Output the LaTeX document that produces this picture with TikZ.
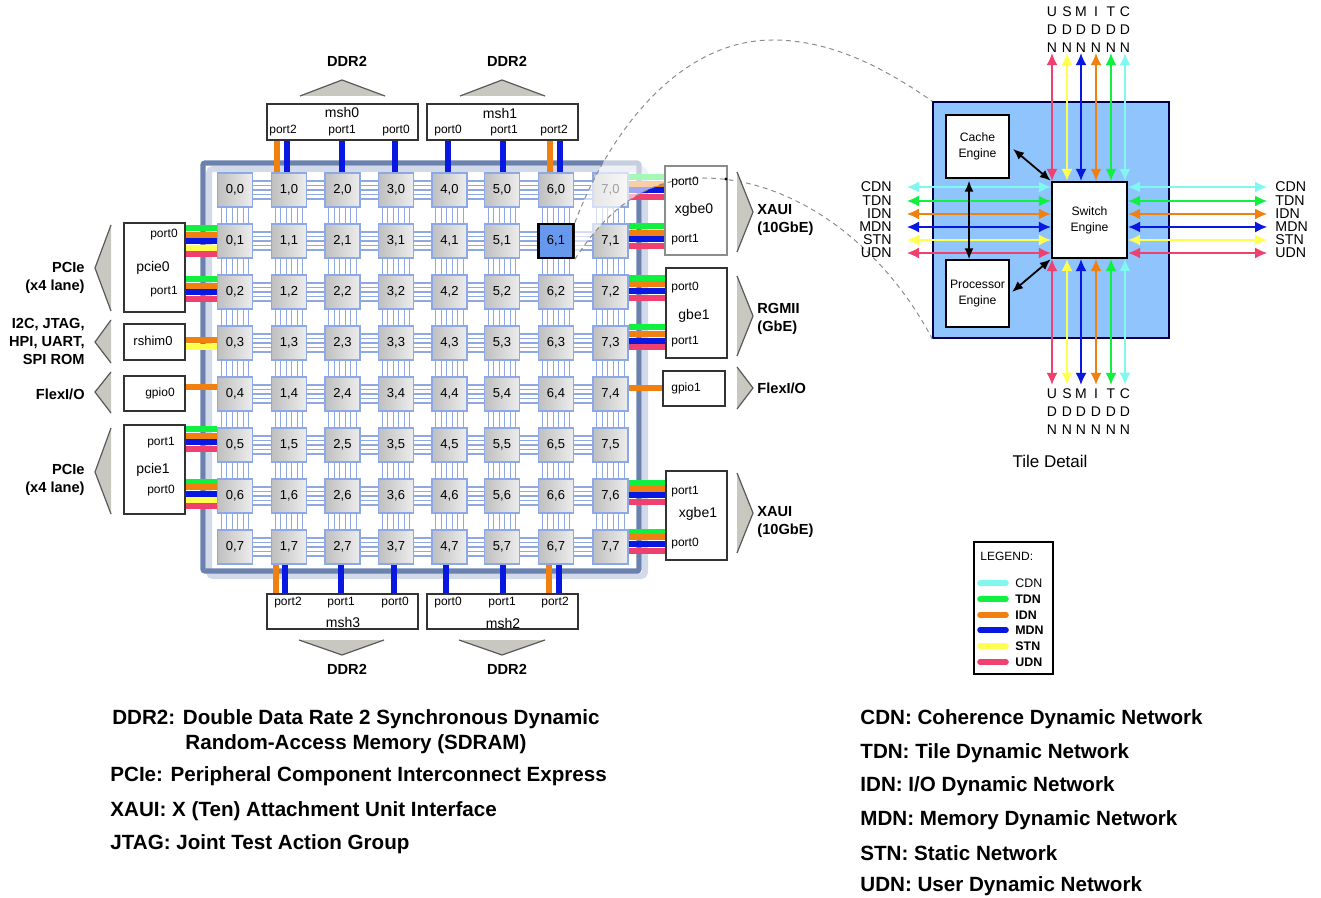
\documentclass[tikz,border=0pt]{standalone}
\usepackage{fontspec}
\setmainfont{Liberation Sans}
\usetikzlibrary{arrows.meta,calc}
\definecolor{cdn}{HTML}{80F8F0}
\definecolor{tdn}{HTML}{10F040}
\definecolor{idn}{HTML}{F08010}
\definecolor{mdn}{HTML}{0818E0}
\definecolor{stn}{HTML}{FFFF50}
\definecolor{udn}{HTML}{F04070}
\definecolor{framecol}{HTML}{6B82AE}
\definecolor{shadecol}{HTML}{D2D9E8}
\definecolor{linkcol}{HTML}{8FA8E0}
\definecolor{tilecol}{HTML}{8CA8E8}
\definecolor{selcol}{HTML}{6699EE}
\definecolor{detailcol}{HTML}{90C4FC}
\definecolor{tricol}{HTML}{C8C8C0}
\tikzset{
    tile/.style={draw=tilecol, line width=.7pt, left color=gray!50, right color=gray!14, minimum width=17.5pt, minimum height=17pt, inner sep=0pt, font=\fontsize{6.5}{7}\selectfont},
    seltile/.style={draw=black, line width=1.3pt, fill=selcol, minimum width=17.5pt, minimum height=17pt, inner sep=0pt, font=\fontsize{6.5}{7}\selectfont},
    link/.style={draw=linkcol, line width=.55pt},
    wire/.style={line width=3pt},
    vwire/.style={line width=2.6pt},
    box/.style={draw=black!80, fill=white, line width=.6pt, inner sep=0pt},
    tri/.style={draw=black!65, fill=tricol, line width=.6pt},
    portlabel/.style={inner sep=0pt, font=\fontsize{6}{7}\selectfont},
    boxlabel/.style={inner sep=0pt, font=\fontsize{7}{8}\selectfont},
    headlabel/.style={inner sep=0pt, font=\fontsize{7.3}{9}\selectfont\bfseries},
    netlabel/.style={inner sep=0pt, font=\fontsize{7}{9}\selectfont},
    sidelabel/.style={inner sep=0pt, font=\fontsize{7.1}{7}\selectfont},
    keytext/.style={inner sep=0pt, anchor=west, font=\fontsize{10.3}{12.5}\selectfont\bfseries},
    netarrow/.style={line width=.6pt, <->, >={Latex[length=6pt,width=5.5pt]}},
    blackarrow/.style={line width=.9pt, <->, >={Latex[length=5.5pt,width=4.5pt]}},
    zoomline/.style={draw=black!45, line width=.5pt, dash pattern=on 2.4pt off 2pt},
}
\begin{document}
\begin{tikzpicture}[x=.5pt,y=-.5pt]
        \useasboundingbox (0,0) rectangle (1321,898);

        % Chip frame
        \draw[draw=shadecol, line width=3pt, rounded corners=2pt] (209,169) rectangle (645,576);
        \draw[draw=framecol, line width=2.6pt, rounded corners=1pt] (203,163) rectangle (639,571);

        % Tiles
        \foreach \c/\cx in {0/235,1/289,2/342.5,3/396,4/449.5,5/502,6/556,7/610.5}
            \foreach \r in {0,...,7}
                \node[tile] (t\c\r) at ({\cx},{190+51*\r}) {\c,\r};
        \node[seltile] (t61) at (556,241) {6,1};

        % Mesh links
        \foreach \c/\d in {0/1,1/2,2/3,3/4,4/5,5/6,6/7}
            \foreach \r in {0,...,7}
                \foreach \o in {-4.5,-2.25,0,2.25,4.5}
                    \draw[link] ([yshift=\o pt]t\c\r.east) -- ([yshift=\o pt]t\d\r.west);
        \foreach \c in {0,...,7}
            \foreach \r/\s in {0/1,1/2,2/3,3/4,4/5,5/6,6/7}
                \foreach \o in {-6.9,-4.1,-1.4,1.4,4.1,6.9}
                    \draw[link] ([xshift=\o pt]t\c\r.south) -- ([xshift=\o pt]t\c\s.north);

        % IO boxes
        \node[box, minimum width=75.5pt, minimum height=18pt] (msh0) at (342.5,122) {};
        \node[box, minimum width=75.5pt, minimum height=18pt] (msh1) at (502.5,122) {};
        \node[box, minimum width=75.5pt, minimum height=17.5pt] (msh3) at (342.5,611.5) {};
        \node[box, minimum width=75.5pt, minimum height=17.5pt] (msh2) at (502.5,611.5) {};
        \node[box, minimum width=30.5pt, minimum height=44.5pt] (pcie0) at (154.5,267.5) {};
        \node[box, minimum width=30.5pt, minimum height=18pt] (rshim0) at (154.5,342) {};
        \node[box, minimum width=30.5pt, minimum height=17.5pt] (gpio0) at (154.5,393.5) {};
        \node[box, minimum width=30.5pt, minimum height=44.5pt] (pcie1) at (154.5,469.5) {};
        \node[box, minimum width=30.5pt, minimum height=45pt] (gbe1) at (696.5,313) {};
        \node[box, minimum width=31pt, minimum height=17.5pt] (gpio1) at (694,388.5) {};
        \node[box, minimum width=30.5pt, minimum height=44.5pt] (xgbe1) at (696.5,515.5) {};

        % Left wires
        \foreach \n/\y in {tdn/228,idn/235,mdn/241,stn/248,udn/254} \draw[wire,color=\n] (t01.west |- 0,\y) -- (pcie0.east |- 0,\y);
        \foreach \n/\y in {tdn/279,idn/286,mdn/292,udn/299} \draw[wire,color=\n] (t02.west |- 0,\y) -- (pcie0.east |- 0,\y);
        \foreach \n/\y in {idn/340,stn/347} \draw[wire,color=\n] (t03.west |- 0,\y) -- (rshim0.east |- 0,\y);
        \draw[wire,color=idn] (t04.west |- 0,387) -- (gpio0.east |- 0,387);
        \foreach \n/\y in {tdn/429,idn/436,mdn/442,udn/449} \draw[wire,color=\n] (t05.west |- 0,\y) -- (pcie1.east |- 0,\y);
        \foreach \n/\y in {tdn/482,idn/487,mdn/494,stn/500,udn/506} \draw[wire,color=\n] (t06.west |- 0,\y) -- (pcie1.east |- 0,\y);

        % Right wires
        \coordinate (xgbe0edge) at (665,210);
        \foreach \n/\y in {tdn/177,idn/184,mdn/190,udn/197} \draw[wire,color=\n] (t70.east |- 0,\y) -- (xgbe0edge |- 0,\y);
        \foreach \n/\y in {tdn/226,idn/233,mdn/239,udn/246} \draw[wire,color=\n] (t71.east |- 0,\y) -- (xgbe0edge |- 0,\y);
        \foreach \n/\y in {tdn/278,idn/284,mdn/291,udn/298} \draw[wire,color=\n] (t72.east |- 0,\y) -- (gbe1.west |- 0,\y);
        \foreach \n/\y in {tdn/327,idn/334,mdn/341,udn/347} \draw[wire,color=\n] (t73.east |- 0,\y) -- (gbe1.west |- 0,\y);
        \draw[wire,color=idn] (t74.east |- 0,388) -- (gpio1.west |- 0,388);
        \foreach \n/\y in {tdn/483,idn/489,mdn/495,udn/502} \draw[wire,color=\n] (t76.east |- 0,\y) -- (xgbe1.west |- 0,\y);
        \foreach \n/\y in {tdn/532,idn/537,mdn/544,udn/551} \draw[wire,color=\n] (t77.east |- 0,\y) -- (xgbe1.west |- 0,\y);

        % Top wires
        \draw[vwire,color=idn,line width=3pt] (msh0.south -| 277,0) -- (t10.north -| 277,0);
        \draw[vwire,color=mdn] (msh0.south -| 287,0) -- (t10.north -| 287,0);
        \draw[vwire,color=mdn] (msh0.south -| 342,0) -- (t20.north -| 342,0);
        \draw[vwire,color=mdn] (msh0.south -| 395,0) -- (t30.north -| 395,0);
        \draw[vwire,color=mdn] (msh1.south -| 448,0) -- (t40.north -| 448,0);
        \draw[vwire,color=mdn] (msh1.south -| 503,0) -- (t50.north -| 503,0);
        \draw[vwire,color=idn,line width=3pt] (msh1.south -| 550,0) -- (t60.north -| 550,0);
        \draw[vwire,color=mdn] (msh1.south -| 560,0) -- (t60.north -| 560,0);

        % Bottom wires
        \draw[vwire,color=idn,line width=3pt] (msh3.north -| 276,0) -- (t17.south -| 276,0);
        \draw[vwire,color=mdn] (msh3.north -| 285,0) -- (t17.south -| 285,0);
        \draw[vwire,color=mdn] (msh3.north -| 341,0) -- (t27.south -| 341,0);
        \draw[vwire,color=mdn] (msh3.north -| 394,0) -- (t37.south -| 394,0);
        \draw[vwire,color=mdn] (msh2.north -| 446,0) -- (t47.south -| 446,0);
        \draw[vwire,color=mdn] (msh2.north -| 503,0) -- (t57.south -| 503,0);
        \draw[vwire,color=idn,line width=3pt] (msh2.north -| 549,0) -- (t67.south -| 549,0);
        \draw[vwire,color=mdn] (msh2.north -| 559,0) -- (t67.south -| 559,0);

        % Tile detail block
        \node[draw=black!70!blue, fill=detailcol, line width=.8pt, minimum width=118pt, minimum height=118pt, inner sep=0pt] (detail) at (1051,220) {};

        % Faded part over the 7,0 corner
        \begin{scope}
            \clip (573,150) rectangle (665,262);
            \fill[white, opacity=.62] (t61.north east) .. controls (610,130) and (680,40) .. (773,40) -- (703,178) .. controls (650,178) and (610,205) .. (t61.south east) -- cycle;
        \end{scope}
        \node[box, draw=black!45, line width=.7pt, minimum width=31pt, minimum height=44.5pt] (xgbe0) at (696,210.5) {};

        % Zoom lines
        \draw[zoomline] (t61.north east) .. controls (610,130) and (680,40) .. (773,40) .. controls (835,40) and (890,72) .. (detail.north west);
        \draw[zoomline] (t61.south east) .. controls (610,205) and (650,178) .. (703,178) .. controls (790,178) and (880,240) .. (detail.south west);
        \fill[black] (726,179) circle (.8pt);

        % Triangles
        \foreach \a/\b/\m in {225/311/268,320/363/342,372/413/392,428/514/472}
            \draw[tri] (111,\a) -- (95,\m) -- (111,\b);
        \foreach \a/\b/\m in {172/252/212,276/356/316,367/409/388,473/553/513}
            \draw[tri] (737,\a) -- (753,\m) -- (737,\b);
        \foreach \a/\b/\m in {300/385/342,460/545/502}
            \draw[tri] (\a,96) -- (\m,80) -- (\b,96);
        \foreach \a/\b/\m in {299/384/342,459/545/502}
            \draw[tri] (\a,640) -- (\m,655) -- (\b,640);

        % Box texts
        \foreach \nm/\x/\y/\t in {a1/283/131/port2,a2/342/131/port1,a3/396/131/port0,
            a4/448/131/port0,a5/504/131/port1,a6/554/131/port2,
            a7/288/603/port2,a8/341/603/port1,a9/395/603/port0,
            a10/448/603/port0,a11/502/603/port1,a12/555/603/port2,
            b1/164/235/port0,b2/164/292/port1,b3/161/443/port1,b4/161/491/port0,
            c1/685/183/port0,c2/685/240/port1,c3/685/288/port0,c4/685/342/port1,c5/685/492/port1,c6/685/544/port0}
            \node[portlabel] (\nm) at (\x,\y) {\t};
        \foreach \nm/\x/\y/\t in {d1/342/113/msh0,d2/500/114/msh1,d3/343/622/msh3,d4/503/623/msh2,
            e1/153/268/pcie0,e2/153/470/pcie1,
            f1/694/210/xgbe0,f2/694/316/gbe1,f3/698/514/xgbe1}
            \node[boxlabel] (\nm) at (\x,\y) {\t};
        \node[portlabel, font=\fontsize{6.5}{7}\selectfont] (g1) at (153,341) {rshim0};
        \node[portlabel] (g2) at (160,393) {gpio0};
        \node[portlabel] (g3) at (686,388) {gpio1};

        % Interface names
        \foreach \nm/\x/\y in {h1/347/61,h2/507/61,h3/347/669,h4/507/669}
            \node[headlabel] (\nm) at (\x,\y) {DDR2};
        \node[headlabel, anchor=west, align=left] (x1) at (757,220) {XAUI\\(10GbE)};
        \node[headlabel, anchor=west, align=left] (x2) at (757,319) {RGMII\\(GbE)};
        \node[headlabel, anchor=west] (x3) at (757,388) {FlexI/O};
        \node[headlabel, anchor=west, align=left] (x4) at (757,522) {XAUI\\(10GbE)};
        \node[headlabel, anchor=east, align=right] (y1) at (85,278) {PCIe\\(x4 lane)};
        \node[headlabel, anchor=east, align=right] (y2) at (85,341) {I2C, JTAG,\\HPI, UART,\\SPI ROM};
        \node[headlabel, anchor=east] (y3) at (85,394) {FlexI/O};
        \node[headlabel, anchor=east, align=right] (y4) at (85,480) {PCIe\\(x4 lane)};

        % Engines
        \node[box, draw=black, line width=.7pt, minimum width=31.5pt, minimum height=31.5pt, align=center, font=\fontsize{6.1}{8}\selectfont] (cache) at (977.5,146.5) {Cache\\Engine};
        \node[box, draw=black, line width=.7pt, minimum width=31.5pt, minimum height=33.5pt, align=center, font=\fontsize{6.1}{8}\selectfont] (proc) at (977.5,293.5) {Processor\\Engine};
        \node[box, draw=black, line width=1.2pt, minimum width=37.5pt, minimum height=38pt, align=center, font=\fontsize{6.1}{8}\selectfont] (sw) at (1089.5,220) {Switch\\Engine};

        % Networks above and below the switch
        \foreach \nm/\x/\t/\n in {u/1052/U/udn,s/1067/S/stn,m/1081/M/mdn,i/1096/I/idn,t/1111/T/tdn,c/1125/C/cdn} {
            \node[netlabel, align=center] (top\nm) at (\x,30) {\t\\D\\N};
            \node[netlabel, align=center] (bot\nm) at (\x,412) {\t\\D\\N};
            \draw[netarrow,color=\n] (top\nm.south) -- (top\nm.south |- sw.north);
            \draw[netarrow,color=\n,shorten <=2pt] (bot\nm.north) -- (bot\nm.north |- sw.south);
        }

        % Networks left and right of the switch
        \foreach \t/\y/\n in {CDN/187/cdn,TDN/201/tdn,IDN/214/idn,MDN/227/mdn,STN/240/stn,UDN/253/udn} {
            \node[sidelabel, anchor=east] (left\t) at (892,\y) {\t};
            \node[sidelabel, anchor=west] (right\t) at (1275,\y) {\t};
            \draw[netarrow,color=\n,shorten <=7.5pt] (left\t.east) -- (left\t.east -| sw.west);
            \draw[netarrow,color=\n,shorten <=4pt] (right\t.west) -- (right\t.west -| sw.east);
        }

        % Engine arrows
        \draw[blackarrow, shorten <=1pt] (cache.south -| 969,0) -- (proc.north -| 969,0);
        \draw[blackarrow] (1013,149) -- (sw.north west);
        \draw[blackarrow] (1012,292) -- (sw.south west);

        \node[inner sep=0pt, font=\fontsize{8.5}{10}\selectfont] (detailtitle) at (1050,461) {Tile Detail};

        % Legend
        \node[draw=black, fill=white, line width=1pt, minimum width=39.5pt, minimum height=66pt, inner sep=0pt] (legend) at (1013.5,608) {};
        \node[inner sep=0pt, anchor=west, font=\fontsize{6}{7}\selectfont] (legendtitle) at (980,556) {LEGEND:};
        \foreach \t/\y/\n/\f in {CDN/583/cdn/\mdseries,TDN/599/tdn/\bfseries,IDN/615/idn/\bfseries,MDN/630/mdn/\bfseries,STN/646/stn/\bfseries,UDN/662/udn/\bfseries} {
            \node[inner sep=0pt, anchor=west, font=\fontsize{6.2}{7}\selectfont\f] (key\t) at (1015,\y) {\t};
            \draw[line width=2.8pt, line cap=round, color=\n] ([xshift=-4.5pt]key\t.west) -- ([xshift=-17.5pt]key\t.west);
        }

        % Abbreviations
        \node[keytext, anchor=center, align=center] (defa) at (356,731.5) {DDR2: Double Data Rate 2 Synchronous Dynamic\\Random-Access Memory (SDRAM)};
        \node[keytext] (defb) at (110,776) {PCIe: Peripheral Component Interconnect Express};
        \node[keytext] (defc) at (110,811) {XAUI: X (Ten) Attachment Unit Interface};
        \node[keytext] (defd) at (110,844) {JTAG: Joint Test Action Group};
        \foreach \nm/\y/\t in {defe/719/{CDN: Coherence Dynamic Network},deff/753/{TDN: Tile Dynamic Network},defg/786/{IDN: I/O Dynamic Network},defh/820/{MDN: Memory Dynamic Network},defi/853/{STN: Static Network},defj/886/{UDN: User Dynamic Network}}
            \node[keytext] (\nm) at (860,\y) {\t};
    \end{tikzpicture}
\end{document}
